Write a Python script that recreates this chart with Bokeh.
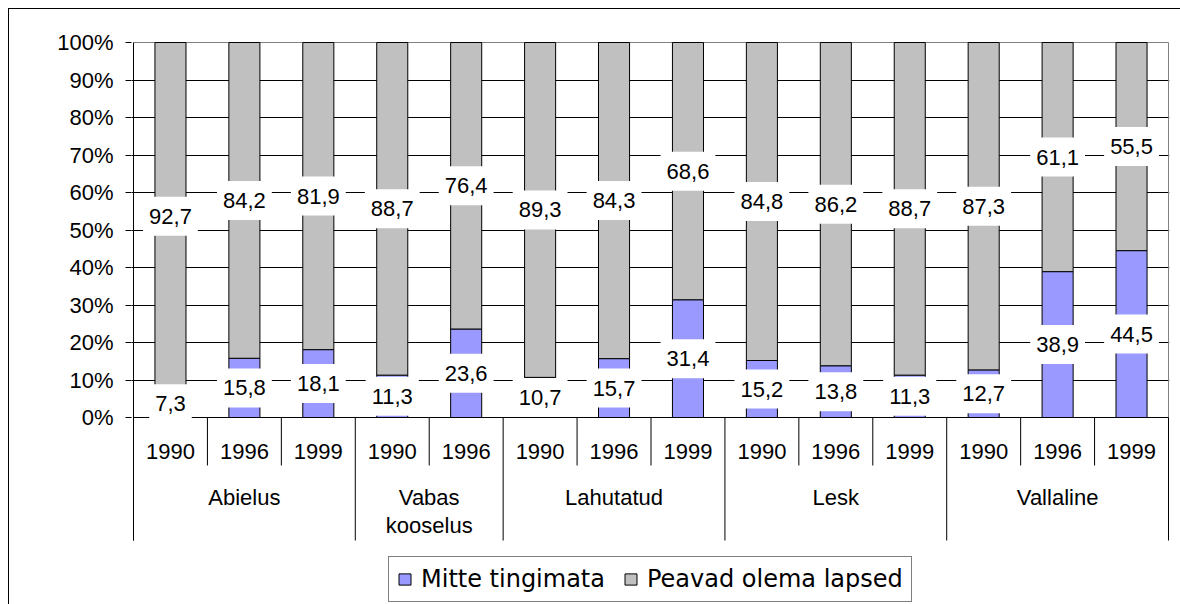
from bokeh.plotting import figure
from bokeh.layouts import column
from bokeh.models import (Range1d, FixedTicker, PrintfTickFormatter, Legend,
                          LegendItem, ColumnDataSource)
from bokeh.core.properties import value
from bokeh.embed import file_html
from bokeh.resources import INLINE

# ---------------- data ----------------
groups = ["Abielus", "Vabas\nkooselus", "Lahutatud", "Lesk", "Vallaline"]
group_years = [["1990", "1996", "1999"],
               ["1990", "1996"],
               ["1990", "1996", "1999"],
               ["1990", "1996", "1999"],
               ["1990", "1996", "1999"]]
series_names = ["Mitte tingimata", "Peavad olema lapsed"]
mitte = [7.3, 15.8, 18.1, 11.3, 23.6, 10.7, 15.7, 31.4, 15.2, 13.8, 11.3, 12.7, 38.9, 44.5]
peavad = [92.7, 84.2, 81.9, 88.7, 76.4, 89.3, 84.3, 68.6, 84.8, 86.2, 88.7, 87.3, 61.1, 55.5]
y_ticks = [0, 10, 20, 30, 40, 50, 60, 70, 80, 90, 100]

colors = ["#9999FF", "#C0C0C0"]
FONT = "Liberation Sans"

years = [y for ys in group_years for y in ys]
n = len(years)
xc = [i + 0.5 for i in range(n)]
tops = [m + p for m, p in zip(mitte, peavad)]

# ---------------- figure ----------------
PX_X = (1168 - 133) / n       # px per category
PX_Y = 375 / 100.0            # px per percent
OFF = 9                       # figure origin inside the bordered wrapper

p = figure(width=1180 - OFF, height=604 - OFF, output_backend="svg",
           toolbar_location=None,
           x_range=Range1d(-2 / PX_X, n + 1 / PX_X),
           y_range=Range1d(-187 / PX_Y, 100 + 2 / PX_Y),
           x_axis_location=None,
           min_border_left=131 - OFF, min_border_right=11,
           min_border_top=40 - OFF, min_border_bottom=0)
p.background_fill_color = "white"
p.border_fill_color = "white"
p.outline_line_color = None

# y axis
ax = p.yaxis[0]
ax.ticker = FixedTicker(ticks=y_ticks)
ax.formatter = PrintfTickFormatter(format="%d%%")
ax.axis_line_color = None
ax.major_tick_in = 0
ax.major_tick_out = 6
ax.major_tick_line_color = "black"
ax.minor_tick_line_color = None
ax.major_label_standoff = 12
ax.major_label_text_font = FONT
ax.major_label_text_font_size = "22px"
ax.major_label_text_color = "black"

p.xgrid.visible = False
p.ygrid.ticker = FixedTicker(ticks=y_ticks[1:-1])
p.ygrid.grid_line_color = "black"
p.ygrid.grid_line_width = 1

# plot border (gray top and right)
p.segment(x0=[0, n], y0=[100, 0], x1=[n, n], y1=[100, 100],
          line_color="#808080", line_width=1)

# bars
r1 = p.vbar(x=xc, bottom=0, top=mitte, width=0.42, fill_color=colors[0],
            line_color="black", line_width=1)
r2 = p.vbar(x=xc, bottom=mitte, top=tops, width=0.42, fill_color=colors[1],
            line_color="black", line_width=1)

# axes lines and category separators
SEP_SHORT = -48 / PX_Y
SEP_LONG = -123 / PX_Y
p.segment(x0=[0], y0=[SEP_LONG], x1=[0], y1=[100], line_color="black")
p.segment(x0=[0], y0=[0], x1=[n], y1=[0], line_color="black")

bounds = [0]
for ys in group_years:
    bounds.append(bounds[-1] + len(ys))
short = [i for i in range(1, n) if i not in bounds]
p.segment(x0=short, y0=[0] * len(short), x1=short, y1=[SEP_SHORT] * len(short),
          line_color="black")
p.segment(x0=bounds, y0=[0] * len(bounds), x1=bounds, y1=[SEP_LONG] * len(bounds),
          line_color="black")

# year labels
p.text(x=xc, y=[-34 / PX_Y] * n, text=years, text_align="center",
       text_baseline="middle", text_font=value(FONT), text_font_size="22px",
       text_color="black")

# group labels
gx, gy, gt = [], [], []
for k, g in enumerate(groups):
    c = (bounds[k] + bounds[k + 1]) / 2
    for j, line in enumerate(g.split("\n")):
        gx.append(c)
        gy.append((-80 - 28 * j) / PX_Y)
        gt.append(line)
p.text(x=gx, y=gy, text=gt, text_align="center", text_baseline="middle",
       text_font=value(FONT), text_font_size="22px", text_color="black")

# data labels
def fmt(v):
    return f"{v:.1f}".replace(".", ",")

lx = xc + xc
ly = [m / 2 for m in mitte] + [m + pv / 2 for m, pv in zip(mitte, peavad)]
lt = [fmt(v) for v in mitte] + [fmt(v) for v in peavad]
src = ColumnDataSource(dict(x=lx, y=ly, t=lt))
p.text(x="x", y="y", text="t", source=src, text_align="center",
       text_baseline="middle", text_font=value(FONT), text_font_size="22px",
       text_color="black", background_fill_color="white",
       padding=dict(left=6, right=6, top=12, bottom=12))

# legend
legend = Legend(items=[LegendItem(label=series_names[0], renderers=[r1]),
                       LegendItem(label=series_names[1], renderers=[r2])],
                orientation="horizontal", location=(388 - 131, 2))
legend.label_text_font = "DejaVu Sans"
legend.label_text_font_size = "24px"
legend.label_text_color = "black"
legend.glyph_width = 15
legend.glyph_height = 14
legend.label_standoff = 9
legend.spacing = 18
legend.padding = 8
legend.margin = 0
legend.border_line_color = "black"
legend.border_line_width = 1
legend.background_fill_color = "white"
legend.background_fill_alpha = 1
p.add_layout(legend)

layout = column(p, styles={"margin-left": "8px", "margin-top": "8px",
                           "border-left": "1px solid black",
                           "border-top": "1px solid black"})

open("out.html", "w").write(file_html(layout, INLINE))
